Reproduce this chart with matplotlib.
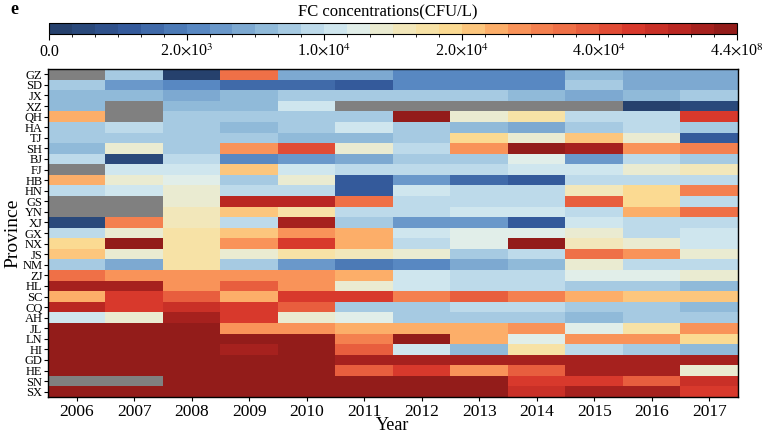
import numpy as np
import matplotlib
matplotlib.use("Agg")
import matplotlib.pyplot as plt
from matplotlib.colors import LinearSegmentedColormap, BoundaryNorm

plt.rcParams['font.family'] = ['Liberation Serif', 'DejaVu Serif']
plt.rcParams['mathtext.fontset'] = 'stix'

provinces = ["GZ", "SD", "JX", "XZ", "QH", "HA", "TJ", "SH", "BJ", "FJ", "HB", "HN",
             "GS", "YN", "XJ", "GX", "NX", "JS", "NM", "ZJ", "HL", "SC", "CQ", "AH",
             "JL", "LN", "HI", "GD", "HE", "SN", "SX"]
years = [2006, 2007, 2008, 2009, 2010, 2011, 2012, 2013, 2014, 2015, 2016, 2017]
cbar_tick_labels = ["0.0", r"2.0$\times$10$^3$", r"1.0$\times$10$^4$", r"2.0$\times$10$^4$",
                    r"4.0$\times$10$^4$", r"4.4$\times$10$^8$"]
n_levels = 30
N = np.nan
# colour level (0..29) of each province/year cell; NaN = no data
GZ = [N, 10, 0, 22, 8, 8, 6, 6, 6, 9, 8, 8]
SD = [10, 7, 6, 4, 4, 3, 6, 6, 6, 10, 8, 8]
JX = [9, 9, 8, 9, 10, 10, 10, 10, 9, 8, 9, 10]
XZ = [9, N, 9, 9, 12, N, N, N, N, N, 0, 1]
QH = [19, N, 10, 10, 10, 10, 29, 14, 16, 11, 11, 25]
HA = [10, 11, 10, 9, 10, 12, 10, 9, 8, 10, 11, 10]
TJ = [10, 10, 10, 10, 9, 9, 10, 17, 14, 18, 14, 3]
SH = [9, 14, 10, 20, 24, 14, 11, 20, 29, 28, 20, 21]
BJ = [11, 1, 11, 6, 7, 8, 10, 10, 13, 7, 11, 10]
FJ = [N, 12, 12, 18, 12, 11, 11, 11, 12, 12, 14, 15]
HB = [19, 14, 13, 10, 14, 3, 7, 4, 3, 11, 11, 11]
HN = [11, 12, 14, 11, 11, 3, 12, 11, 11, 15, 17, 21]
GS = [N, N, 14, 27, 27, 22, 11, 11, 11, 23, 17, 11]
YN = [N, N, 15, 18, 16, 11, 11, 12, 12, 11, 19, 22]
XJ = [1, 21, 15, 11, 28, 10, 7, 7, 3, 12, 11, 11]
GX = [11, 14, 16, 18, 20, 19, 12, 13, 13, 14, 11, 12]
NX = [17, 29, 16, 20, 25, 19, 11, 13, 29, 15, 14, 12]
JS = [18, 14, 16, 14, 16, 15, 14, 10, 11, 22, 20, 14]
NM = [10, 8, 16, 10, 7, 5, 6, 8, 9, 14, 11, 11]
ZJ = [22, 20, 20, 20, 20, 19, 12, 11, 11, 13, 13, 14]
HL = [28, 28, 20, 23, 20, 14, 12, 11, 11, 10, 10, 9]
SC = [19, 25, 23, 19, 25, 25, 21, 23, 21, 19, 18, 18]
CQ = [27, 25, 26, 25, 23, 10, 10, 11, 11, 10, 10, 9]
AH = [12, 14, 28, 25, 14, 13, 10, 10, 10, 9, 10, 10]
JL = [29, 29, 29, 20, 20, 19, 19, 19, 20, 13, 16, 20]
LN = [29, 29, 29, 29, 29, 21, 29, 19, 13, 20, 20, 17]
HI = [29, 29, 29, 28, 29, 23, 12, 9, 16, 11, 10, 9]
GD = [29, 29, 29, 29, 29, 28, 28, 28, 28, 28, 28, 28]
HE = [29, 29, 29, 29, 29, 23, 25, 20, 23, 28, 28, 14]
SN = [N, N, 29, 29, 29, 29, 29, 29, 25, 25, 23, 26]
SX = [29, 29, 29, 29, 29, 29, 29, 29, 26, 28, 28, 25]

rows = [GZ, SD, JX, XZ, QH, HA, TJ, SH, BJ, FJ, HB, HN, GS, YN, XJ, GX, NX, JS, NM,
        ZJ, HL, SC, CQ, AH, JL, LN, HI, GD, HE, SN, SX]
data = np.array(rows, dtype=float)

anchors = [(0.0, "#26416d"), (0.1, "#33599a"), (0.2, "#5686c1"), (0.3, "#8ab5d7"),
           (0.4, "#c9e3ef"), (0.45, "#e2efe9"), (0.5, "#efe9c4"), (0.58, "#fbdf97"),
           (0.64, "#fdb96f"), (0.7, "#f88c55"), (0.78, "#ec6743"), (0.86, "#d93a2c"),
           (0.94, "#b72521"), (1.0, "#931c1a")]
base = LinearSegmentedColormap.from_list("fc", anchors)
cmap = LinearSegmentedColormap.from_list("fc30", base(np.linspace(0, 1, n_levels)), N=n_levels)
cmap.set_bad("#808080")
bounds = np.arange(n_levels + 1)
norm = BoundaryNorm(bounds, cmap.N)

fig = plt.figure(figsize=(7.75, 4.36), dpi=100)
ax = fig.add_axes([0.0619, 0.0894, 0.8903, 0.7523])
masked = np.ma.masked_invalid(data)
mesh = ax.pcolormesh(np.arange(len(years) + 1), np.arange(len(provinces) + 1), masked,
                     cmap=cmap, norm=norm)
ax.set_xlim(0, len(years))
ax.set_ylim(len(provinces), 0)
ax.set_xticks(np.arange(len(years)) + 0.5)
ax.set_xticklabels([str(y) for y in years], fontsize=12.5)
ax.set_yticks(np.arange(len(provinces)) + 0.5)
ax.set_yticklabels(provinces, fontsize=9)
ax.tick_params(axis='y', length=3, pad=1)
ax.tick_params(axis='x', length=3, pad=2)
ax.set_xlabel("Year", fontsize=13, labelpad=-2)
ax.set_ylabel("Province", fontsize=14, labelpad=1)
for s in ax.spines.values():
    s.set_linewidth(1.0)

cax = fig.add_axes([0.0632, 0.922, 0.8877, 0.025])
cb = fig.colorbar(mesh, cax=cax, orientation='horizontal', ticks=[0, 6, 12, 18, 24, 30])
cb.ax.set_xticklabels(cbar_tick_labels, fontsize=11.5)
cb.ax.tick_params(length=4, pad=3)
cb.outline.set_linewidth(0.8)
fig.text(0.5, 0.972, "FC concentrations(CFU/L)", ha='center', va='center', fontsize=12)
fig.text(0.014, 0.978, "e", ha='left', va='center', fontsize=13, fontweight='bold')

fig.savefig("out.png", dpi=100)
